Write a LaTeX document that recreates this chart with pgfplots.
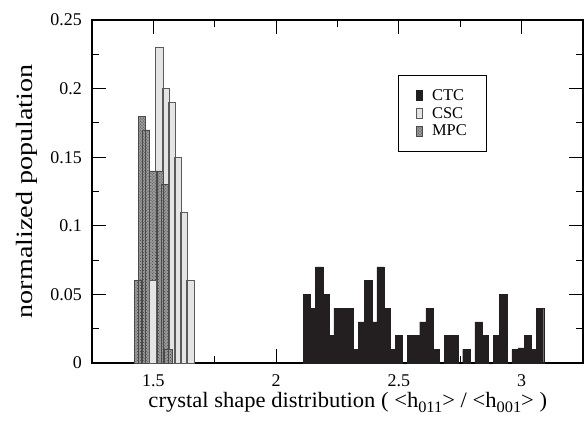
\documentclass[border=0pt]{standalone}
\usepackage{fontspec}
\setmainfont{Liberation Serif}
\usepackage{pgfplots}
\pgfplotsset{compat=1.18}
\usetikzlibrary{patterns}
\definecolor{ctc}{HTML}{231F20}
\definecolor{cscfill}{HTML}{E4E4E4}
\definecolor{cscdraw}{HTML}{5A5A5A}
\definecolor{mpcfill}{HTML}{9A9A9A}
\definecolor{mpcdraw}{HTML}{4A4A4A}
\newcommand{\sub}[1]{{\fontsize{16}{16}\selectfont\raisebox{-5bp}{#1}}}
\begin{document}
\begin{tikzpicture}
\begin{axis}[
  scale only axis, width=491bp, height=343bp,
  xmin=1.25, xmax=3.25, ymin=0, ymax=0.25,
  xtick={1.5,2,2.5,3}, xticklabels={\textrm{1.5},\textrm{2},\textrm{2.5},\textrm{3}},
  ytick={0,0.05,0.1,0.15,0.2,0.25},
  yticklabels={\textrm{0},\textrm{0.05},\textrm{0.1},\textrm{0.15},\textrm{0.2},\textrm{0.25}},
  minor x tick num=1, minor y tick num=1,
  tick pos=both, tick align=inside,
  major tick length=14bp, minor tick length=7bp,
  every tick/.style={black, line width=1.1bp},
  axis line style={line width=1.4bp},
  /pgf/number format/assume math mode=true,
  tick label style={font=\fontsize{18}{20}\selectfont},
  xticklabel style={anchor=north, inner sep=0pt, yshift=-11bp},
  yticklabel style={anchor=east, inner sep=0pt, xshift=-10bp},
  xlabel={crystal shape distribution ( <h\sub{011}> / <h\sub{001}> )},
  ylabel={normalized population},
  xlabel style={font=\fontsize{22}{26}\selectfont\addfontfeature{FakeStretch=1.03}, at={(axis description cs:0.521,-0.1283)}, anchor=base, inner sep=0pt},
  ylabel style={font=\fontsize{23.5}{26}\selectfont\addfontfeature{FakeStretch=1.2}, at={(axis description cs:-0.1222,0.5)}, anchor=base, inner sep=0pt},
  mybar/.style={ybar, bar width=0.030, bar shift=0pt,
    legend image code/.code={\path (0bp,0bp) (13bp,0bp); \draw[##1, line width=0.5bp] (0bp,-5bp) rectangle (6bp,5bp);}},
  legend style={at={(0.623,0.84)}, anchor=north west, draw=black, line width=0.9bp,
    font=\fontsize{16.5}{19}\selectfont, inner xsep=18bp, inner ysep=12bp, row sep=1.5bp,
    cells={anchor=west}},
]
% CTC
\addplot[mybar, fill=ctc, draw=ctc, line width=0.4bp] coordinates {
 (2.125,0.05) (2.15,0.04) (2.175,0.07) (2.2,0.05) (2.225,0.02) (2.25,0.04)
 (2.275,0.04) (2.3,0.04) (2.325,0.01) (2.35,0.03) (2.375,0.06) (2.4,0.03)
 (2.425,0.07) (2.45,0.04) (2.475,0.01) (2.5,0.02) (2.55,0.02) (2.575,0.02)
 (2.6,0.03) (2.625,0.04) (2.65,0.01) (2.7,0.02) (2.725,0.02) (2.775,0.01)
 (2.825,0.03) (2.85,0.02) (2.9,0.02) (2.925,0.05) (2.975,0.01) (3.0,0.011)
 (3.025,0.02) (3.05,0.01) (3.075,0.04)
};
\addlegendentry{CTC}
% CSC
\addplot[mybar, fill=cscfill, draw=cscdraw, line width=0.7bp] coordinates {
 (1.4988,0.06) (1.525,0.23) (1.55,0.20) (1.575,0.19) (1.6,0.15) (1.625,0.11) (1.65,0.06)
};
\addlegendentry{CSC}
% MPC
\addplot[mybar, fill=mpcfill, draw=mpcdraw, line width=0.5bp,
  postaction={pattern=crosshatch dots, pattern color=black!75}] coordinates {
 (1.437,0.06) (1.453,0.18) (1.470,0.17) (1.499,0.14) (1.527,0.14) (1.546,0.13) (1.560,0.01)
};
\addlegendentry{MPC}
% CSC bar visible in front
\addplot[mybar, forget plot, fill=cscfill, draw=cscdraw, line width=0.7bp] coordinates {
 (1.4988,0.06)
};
\end{axis}
\pgfresetboundingbox
\useasboundingbox ([shift={(-92bp,-66bp)}]current axis.south west) rectangle ([shift={(1bp,20bp)}]current axis.north east);
\end{tikzpicture}
\end{document}
